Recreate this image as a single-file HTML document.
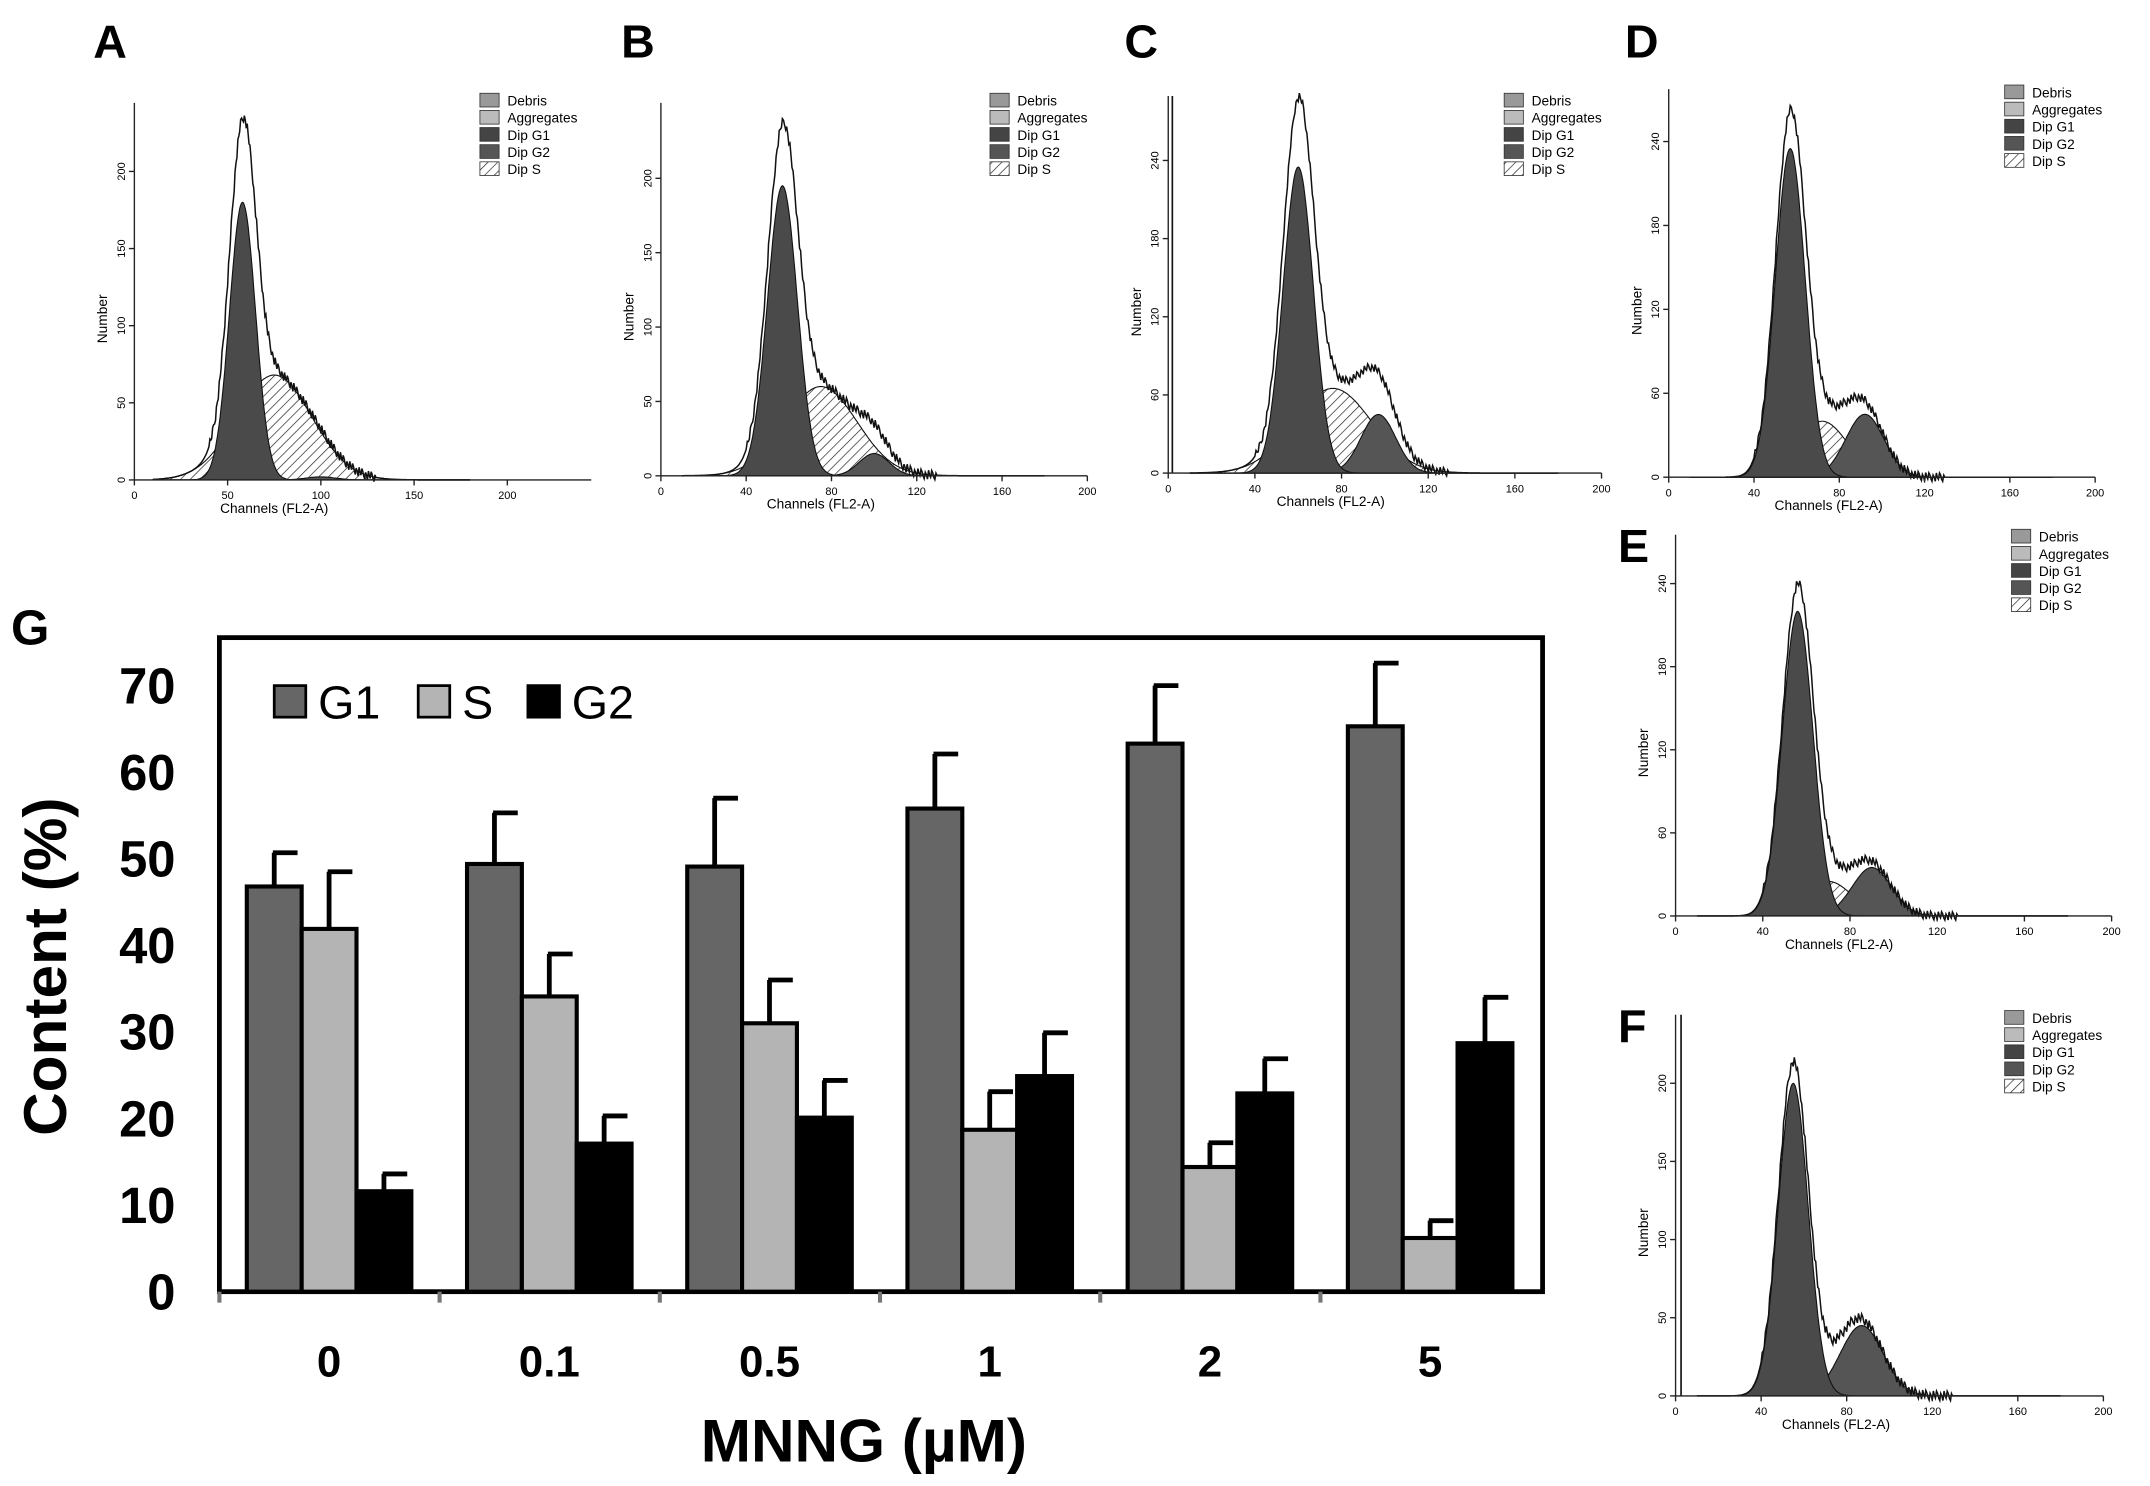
<!DOCTYPE html>
<html><head><meta charset="utf-8"><style>
html,body{margin:0;padding:0;background:#fff;}
svg{display:block;font-family:"Liberation Sans",Arial,sans-serif;}
</style></head><body>
<svg id="fig" width="2150" height="1486" viewBox="0 0 1568 1083.7" xmlns="http://www.w3.org/2000/svg">
<defs>
<pattern id="hatch" patternUnits="userSpaceOnUse" width="5" height="5" patternTransform="rotate(45)">
<rect width="5" height="5" fill="#fff"/><line x1="0" y1="0" x2="0" y2="5" stroke="#222" stroke-width="1"/>
</pattern>
</defs>
<g id="hists"></g>
<g id="bars"></g>
</svg>
<script>
const NS="http://www.w3.org/2000/svg";
function mk(tag,attrs,parent,text){const e=document.createElementNS(NS,tag);for(const k in attrs)e.setAttribute(k,attrs[k]);if(text!==undefined)e.textContent=text;parent.appendChild(e);return e;}

// ---------- Bar chart data ----------
const categories=["0","0.1","0.5","1","2","5"];
const g1Values=[46.8,49.4,49.1,55.8,63.3,65.3];
const g1ErrTop=[50.7,55.3,57.0,62.1,70.0,72.6];
const sValues=[41.9,34.1,31.0,18.7,14.4,6.2];
const sErrTop=[48.5,39.0,36.0,23.1,17.2,8.2];
const g2Values=[11.6,17.1,20.1,24.9,22.9,28.7];
const g2ErrTop=[13.6,20.3,24.4,29.9,26.9,34.0];
const yTicks=[0,10,20,30,40,50,60,70];

// ---------- Histogram data (peak params) ----------
const panelLetters=["A","B","C","D","E","F"];
const g1Mu=[58,57,60,57,56,55];
const g1Sig=[7,7,7,7,7,7];
const g1H=[180,195,235,235,220,200];
const sMu=[75,75,76,72,70,70];
const sSig=[20,17,18,12,11,12];
const sH=[68,60,65,40,25,12];
const g2Mu=[100,100,97,92,90,87];
const g2Sig=[8,7,8,9,9,10];
const g2H=[2,15,45,45,35,45];
const histXTicks=[[0,50,100,150,200],[0,40,80,120,160,200],[0,40,80,120,160,200],[0,40,80,120,160,200],[0,40,80,120,160,200],[0,40,80,120,160,200]];
const histYTicks=[[0,50,100,150,200],[0,50,100,150,200],[0,60,120,180,240],[0,60,120,180,240],[0,60,120,180,240],[0,50,100,150,200]];

const layout=[
 {ox:98,oy:350,sx:1.36,sy:1.125,xmax:245,top:75,lx:350,ly:68,L:[68,42]},
 {ox:482,oy:347,sx:1.555,sy:1.085,xmax:200,top:75,lx:722,ly:68,L:[453,42]},
 {ox:852,oy:345,sx:1.58,sy:0.95,xmax:200,top:70,lx:1097,ly:68,L:[820,42],vline:855},
 {ox:1217,oy:348,sx:1.555,sy:1.02,xmax:200,top:65,lx:1462,ly:62,L:[1185,42]},
 {ox:1222,oy:668,sx:1.59,sy:1.01,xmax:200,top:390,lx:1467,ly:386,L:[1180,410]},
 {ox:1222,oy:1018,sx:1.56,sy:1.14,xmax:200,top:740,lx:1462,ly:737,L:[1180,760],vline:1226}
];
const gauss=(x,m,s,h)=>h*Math.exp(-0.5*((x-m)/s)**2);
const H=document.getElementById('hists');
layout.forEach((p,i)=>{
 const g=mk('g',{},H);
 
 
 const X=v=>p.ox+v*p.sx, Y=v=>p.oy-v*p.sy;
 const lt=mk('text',{x:p.L[0],y:p.L[1],'font-size':34,'font-weight':'bold'},g,panelLetters[i]);
 
 
 const step=0.5; let sP="",g1P="",g2P="",tP="";
 for(let x=10;x<=180;x+=step){
  const s=gauss(x,sMu[i],sSig[i],sH[i]);
  const a=gauss(x,g1Mu[i],g1Sig[i],g1H[i]);
  const b=gauss(x,g2Mu[i],g2Sig[i],g2H[i]);
  const noise=((Math.round(x*7)%5)-2)*1.5*(x>40&&x<130?1:0);
  const c=(x===10?"M":"L");
  sP+=c+X(x).toFixed(1)+","+Y(s).toFixed(1);
  g1P+=c+X(x).toFixed(1)+","+Y(a).toFixed(1);
  g2P+=c+X(x).toFixed(1)+","+Y(b).toFixed(1);
  tP+=c+X(x).toFixed(1)+","+Y(a+s+b+noise+a*0.04).toFixed(1);
 }
 const close="L"+X(180)+","+Y(0)+"L"+X(10)+","+Y(0)+"Z";
 const e1=mk('path',{d:sP+close,fill:'url(#hatch)',stroke:'#111','stroke-width':0.8},g);
 
 const e2=mk('path',{d:g2P+close,fill:'#555',stroke:'#111','stroke-width':0.8},g);
 
 const e3=mk('path',{d:g1P+close,fill:'#4a4a4a',stroke:'#111','stroke-width':0.8},g);
 
 const e4=mk('path',{d:tP,fill:'none',stroke:'#111','stroke-width':1.1},g);
 
 if(p.vline){const v=mk('line',{x1:p.vline,x2:p.vline,y1:p.top,y2:p.oy,stroke:'#111','stroke-width':1.2},g);}
 const ax=mk('line',{x1:p.ox,x2:X(p.xmax),y1:p.oy,y2:p.oy,stroke:'#222','stroke-width':1},g);
 
 const ay=mk('line',{x1:p.ox,x2:p.ox,y1:p.oy,y2:p.top,stroke:'#222','stroke-width':1},g);
 
 histXTicks[i].forEach(t=>{mk('line',{x1:X(t),x2:X(t),y1:p.oy,y2:p.oy+4,stroke:'#222'},g);
  const tx=mk('text',{x:X(t),y:p.oy+14,'font-size':8,'text-anchor':'middle'},g,t);
  });
 histYTicks[i].forEach(t=>{mk('line',{x1:p.ox-4,x2:p.ox,y1:Y(t),y2:Y(t),stroke:'#222'},g);
  const tx=mk('text',{x:p.ox-7,y:Y(t),'font-size':8,'text-anchor':'middle',transform:`rotate(-90 ${p.ox-7} ${Y(t)})`},g,t);
  });
 const xl=mk('text',{x:X(75),y:p.oy+24,'font-size':10,'text-anchor':'middle'},g,'Channels (FL2-A)');
 
 const yy=(p.oy+p.top)/2+20;
 const yl=mk('text',{x:p.ox-20,y:yy,'font-size':10,'text-anchor':'middle',transform:`rotate(-90 ${p.ox-20} ${yy})`},g,'Number');
 
 const names=["Debris","Aggregates","Dip G1","Dip G2","Dip S"];
 const fills=["#999","#bbb","#444","#555","url(#hatch)"];
 names.forEach((n,k)=>{
  const le=mk('g',{},g);
  
  mk('rect',{x:p.lx,y:p.ly+k*12.5,width:14,height:10,fill:fills[k],stroke:'#333','stroke-width':0.6},le);
  mk('text',{x:p.lx+20,y:p.ly+k*12.5+9,'font-size':10},le,n);
 });
});

// ---------- Bar chart ----------
const B=document.getElementById('bars');
const x0=160,x1=1125,yTop=465,yBase=942;
const yS=v=>yBase-v*(442/70);
const groupX=i=>240+i*160.6;
const bw=40;
const frame=mk('rect',{x:x0,y:yTop,width:x1-x0,height:yBase-yTop,fill:'none',stroke:'#000','stroke-width':3.5},B);

yTicks.forEach(t=>{const tx=mk('text',{x:128,y:yS(t)+13,'font-size':37,'font-weight':'bold','text-anchor':'end'},B,t);
 });
categories.forEach((c,i)=>{
 const tk=mk('line',{x1:x0+i*160.6,x2:x0+i*160.6,y1:yBase,y2:yBase+8,stroke:'#777','stroke-width':3},B);
 
 const tx=mk('text',{x:groupX(i),y:1004,'font-size':32,'font-weight':'bold','text-anchor':'middle'},B,c);
 
 [[g1Values,g1ErrTop,'#666',-1,'g1'],[sValues,sErrTop,'#b4b4b4',0,'s'],[g2Values,g2ErrTop,'#000',1,'g2']].forEach(([vals,errs,col,off,nm])=>{
  const bx=groupX(i)+off*bw-bw/2;
  const eb=mk('path',{d:`M${bx+bw/2},${yS(vals[i])}V${yS(errs[i])}M${bx+bw/2-1},${yS(errs[i])}H${bx+bw/2+17}`,stroke:'#000','stroke-width':3.5,fill:'none'},B);
  
  const r=mk('rect',{x:bx,y:yS(vals[i]),width:bw,height:yBase-yS(vals[i]),fill:col,stroke:'#000','stroke-width':3},B);
  
 });
});
const lg=[['G1','#666',200],['S','#b4b4b4',305],['G2','#000',385]];
lg.forEach(([n,c,x])=>{const e=mk('g',{},B);
 
 mk('rect',{x:x,y:500,width:23,height:23,fill:c,stroke:'#000','stroke-width':2},e);
 mk('text',{x:x+32,y:524,'font-size':34},e,n);});
const gl=mk('text',{x:8,y:470,'font-size':36,'font-weight':'bold'},B,'G');

const yt=mk('text',{x:48,y:705,'font-size':44,'font-weight':'bold','text-anchor':'middle',transform:'rotate(-90 48 705)'},B,'Content (%)');

const xt=mk('text',{x:630,y:1066,'font-size':44,'font-weight':'bold','text-anchor':'middle'},B,'MNNG (µM)');

</script>
</body></html>
